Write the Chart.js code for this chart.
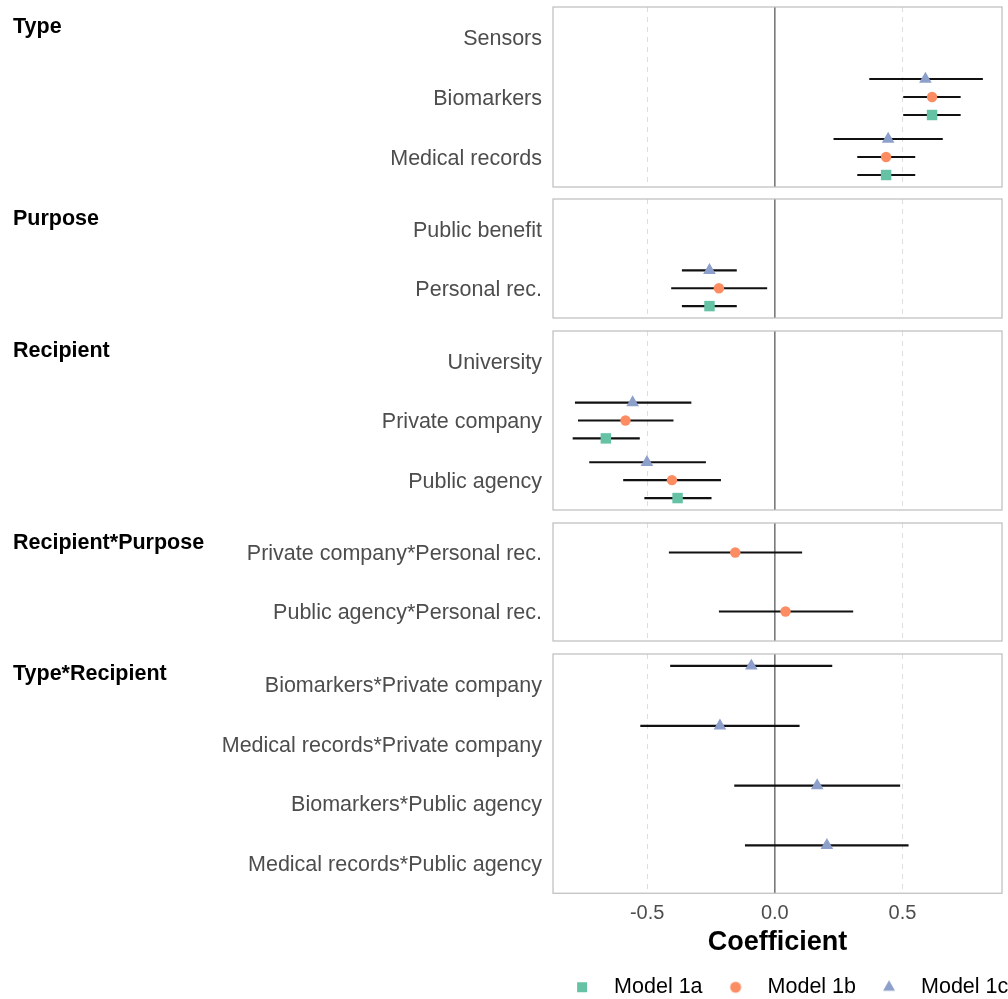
<!DOCTYPE html>
<html>
<head>
<meta charset="utf-8">
<title>Coefficient plot</title>
<script src="https://cdn.jsdelivr.net/npm/chart.js@4.4.1/dist/chart.umd.min.js"></script>
<style>
  html, body { margin: 0; padding: 0; background: #fff; overflow: hidden; }
  body { position: relative; width: 1008px; height: 999px; font-family: 'Liberation Sans', Arial, sans-serif; }
  .panel { position: absolute; left: 0; }
  .strip { position: absolute; left: 13px; font-size: 21.5px; font-weight: bold; line-height: 1; color: #000; white-space: nowrap; }
</style>
</head>
<body>
<script>
// ---- data ----
const panelNames = ['Type', 'Purpose', 'Recipient', 'Recipient*Purpose', 'Type*Recipient'];
const terms = [
    'Sensors', 'Biomarkers', 'Medical records',
    'Public benefit', 'Personal rec.',
    'University', 'Private company', 'Public agency',
    'Private company*Personal rec.', 'Public agency*Personal rec.',
    'Biomarkers*Private company', 'Medical records*Private company',
    'Biomarkers*Public agency', 'Medical records*Public agency'
];
const termPanel = [0, 0, 0, 1, 1, 2, 2, 2, 3, 3, 4, 4, 4, 4];
const modelNames = ['Model 1a', 'Model 1b', 'Model 1c'];

const est1a = [null, 0.616, 0.436, null, -0.256, null, -0.662, -0.381, null, null, null, null, null, null];
const lo1a  = [null, 0.503, 0.323, null, -0.364, null, -0.792, -0.511, null, null, null, null, null, null];
const hi1a  = [null, 0.728, 0.550, null, -0.149, null, -0.529, -0.248, null, null, null, null, null, null];

const est1b = [null, 0.616, 0.436, null, -0.219, null, -0.585, -0.403, -0.155, 0.042, null, null, null, null];
const lo1b  = [null, 0.503, 0.323, null, -0.406, null, -0.771, -0.594, -0.415, -0.219, null, null, null, null];
const hi1b  = [null, 0.728, 0.550, null, -0.030, null, -0.397, -0.211, 0.107, 0.307, null, null, null, null];

const est1c = [null, 0.590, 0.444, null, -0.256, null, -0.557, -0.501, null, null, -0.092, -0.215, 0.166, 0.204];
const lo1c  = [null, 0.370, 0.230, null, -0.364, null, -0.783, -0.727, null, null, -0.410, -0.527, -0.159, -0.117];
const hi1c  = [null, 0.815, 0.658, null, -0.149, null, -0.327, -0.270, null, null, 0.225, 0.097, 0.491, 0.524];

const xTicks = [-0.5, 0, 0.5];

// ---- layout / style ----
const panelTop = [7, 199, 331, 523, 654];
const panelHeight = [180, 119, 179, 118, 239];
const pad = 30; // room above/below each panel for the label half-heights
const xMin = -0.869, xMax = 0.89;
const family = "'Liberation Sans', Arial, sans-serif";

const models = [
    { name: modelNames[0], est: est1a, lo: lo1a, hi: hi1a, color: '#66c2a5', shape: 'rect', radius: 7.4, dodge: 0.3 },
    { name: modelNames[1], est: est1b, lo: lo1b, hi: hi1b, color: '#fc8d62', shape: 'circle', radius: 5.2, dodge: 0 },
    { name: modelNames[2], est: est1c, lo: lo1c, hi: hi1c, color: '#8da0cb', shape: 'triangle', radius: 7.3, dodge: -0.3 }
];

Chart.defaults.font.family = family;

// legend glyphs (same look as the plotted markers)
function markerSprite(m) {
    const c = document.createElement('canvas');
    c.width = 16; c.height = 16;
    const g = c.getContext('2d');
    g.fillStyle = m.color;
    g.beginPath();
    if (m.shape === 'rect') g.rect(3, 3, 10, 10);
    else if (m.shape === 'circle') g.arc(8, 8, 5.5, 0, Math.PI * 2);
    else { g.moveTo(8, 1.1); g.lineTo(14, 11.5); g.lineTo(2, 11.5); g.closePath(); }
    g.fill();
    return c;
}
const sprites = models.map(markerSprite);

// grey frame round each facet panel
const panelBorder = {
    id: 'panelBorder',
    afterDraw(chart) {
        const { ctx, chartArea: a } = chart;
        ctx.save();
        ctx.strokeStyle = '#bdbdbd';
        ctx.lineWidth = 1.2;
        ctx.strokeRect(a.left, a.top, a.right - a.left, a.bottom - a.top);
        ctx.restore();
    }
};

panelNames.forEach((panelName, p) => {
    const rows = terms.map((t, i) => i).filter(i => termPanel[i] === p);
    const labels = rows.map(i => terms[i]);
    const n = rows.length;
    const last = p === panelNames.length - 1;

    const datasets = [];
    // reference line at 0
    datasets.push({
        data: [{ x: 0, y: 0.5 }, { x: 0, y: n + 0.5 }],
        showLine: true, borderColor: '#7a7a7a', borderWidth: 1.6, pointRadius: 0, order: 3
    });
    // confidence intervals
    models.forEach(m => {
        const segs = [];
        rows.forEach((ti, k) => {
            if (m.est[ti] === null) return;
            const y = k + 1 + m.dodge;
            segs.push({ x: m.lo[ti], y }, { x: m.hi[ti], y }, { x: null, y: null });
        });
        datasets.push({ data: segs, showLine: true, borderColor: '#111', borderWidth: 2.2, pointRadius: 0, order: 2 });
    });
    // estimates
    models.forEach(m => {
        const pts = [];
        rows.forEach((ti, k) => {
            if (m.est[ti] !== null) pts.push({ x: m.est[ti], y: k + 1 + m.dodge });
        });
        datasets.push({
            label: m.name, data: pts, pointStyle: m.shape, pointRadius: m.radius,
            backgroundColor: m.color, borderWidth: 0, order: 1
        });
    });

    const w = last ? 1020 : 1008;
    const h = last ? 356 + pad - 2 : panelHeight[p] + 2 * pad;
    const wrap = document.createElement('div');
    wrap.className = 'panel';
    wrap.style.top = (panelTop[p] - pad) + 'px';
    wrap.style.width = w + 'px';
    wrap.style.height = h + 'px';
    const cv = document.createElement('canvas');
    cv.width = w; cv.height = h;
    wrap.appendChild(cv);
    document.body.appendChild(wrap);

    const strip = document.createElement('div');
    strip.className = 'strip';
    strip.style.top = (panelTop[p] + 9) + 'px';
    strip.innerText = panelName;
    document.body.appendChild(strip);

    const scales = {
        x: {
            type: 'linear',
            min: xMin,
            max: xMax,
            afterBuildTicks: s => { s.ticks = xTicks.map(v => ({ value: v })); },
            grid: { color: '#dedede', lineWidth: 1, drawTicks: false, borderDash: [5, 5] },
            border: { display: false, dash: [5, 5] },
            ticks: {
                display: last,
                padding: 8,
                color: '#4d4d4d',
                font: { size: 20 },
                callback: v => v.toFixed(1)
            },
            title: {
                display: last,
                text: 'Coefficient',
                color: '#000',
                font: { size: 27, weight: 'bold', lineHeight: 1 },
                padding: { top: -4.5, bottom: 9 }
            }
        },
        y: {
            type: 'linear',
            reverse: true,
            min: 0.5,
            max: n + 0.5,
            afterBuildTicks: s => { s.ticks = labels.map((l, i) => ({ value: i + 1 })); },
            afterFit: s => { s.width = 553; },
            grid: { display: false, drawTicks: false },
            border: { display: false },
            ticks: {
                padding: 11,
                labelOffset: 2,
                color: '#4d4d4d',
                font: { size: 21.5 },
                autoSkip: false,
                callback: (v, i) => labels[i]
            }
        }
    };
    if (last) {
        // spacer on the right so the panel ends where the others do
        scales.yr = {
            type: 'linear',
            position: 'right',
            grid: { display: false, drawTicks: false },
            border: { display: false },
            ticks: { display: false },
            afterFit: s => { s.width = 18; }
        };
    }

    new Chart(cv.getContext('2d'), {
        type: 'scatter',
        data: { datasets },
        options: {
            responsive: false,
            animation: false,
            events: [],
            layout: { autoPadding: false, padding: { top: pad, bottom: last ? 0 : pad, left: 0, right: last ? 0 : 6 } },
            plugins: {
                tooltip: { enabled: false },
                legend: last ? {
                    position: 'bottom',
                    align: 'end',
                    labels: {
                        usePointStyle: true,
                        pointStyleWidth: 42.5,
                        boxHeight: 9,
                        padding: 11.75,
                        color: '#000',
                        font: { size: 21.5 },
                        generateLabels: () => models.map((m, i) => ({
                            text: m.name,
                            fillStyle: m.color,
                            strokeStyle: m.color,
                            lineWidth: 0,
                            pointStyle: sprites[i],
                            hidden: false,
                            datasetIndex: 4 + i
                        }))
                    }
                } : { display: false }
            },
            scales
        },
        plugins: [panelBorder]
    });
});
</script>
</body>
</html>
